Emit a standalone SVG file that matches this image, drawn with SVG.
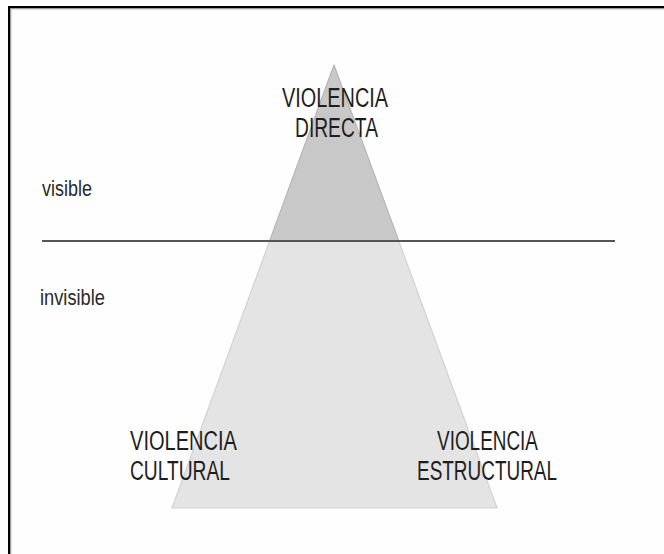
<svg xmlns="http://www.w3.org/2000/svg" width="664" height="554" viewBox="0 0 664 554">
  <style>
    .lbl { font-family: "Liberation Sans Narrow", "Liberation Sans", Arial, sans-serif; font-size: 27px; fill: #1e1e1e; }
    .side { font-family: "Liberation Sans Narrow", "Liberation Sans", Arial, sans-serif; font-size: 22px; fill: #2a2a2a; }
  </style>
  <rect x="0" y="0" width="664" height="554" fill="#fefefe"/>
  <g id="frame">
    <path d="M10.5 554 V8.5 H664" fill="none" stroke="#9a9a9a" stroke-width="1.5"/>
    <path d="M9 554 V7 H664" fill="none" stroke="#000" stroke-width="2"/>
  </g>
  <g id="pyramid">
    <polygon points="334,65 172,508 497,508" fill="#e4e4e4" stroke="#d2d2d2" stroke-width="1.2"/>
    <polygon points="334,65 269.6,241 398.8,241" fill="#c8c8c8" stroke="#b4b4b4" stroke-width="1"/>
  </g>
  <g id="connectors">
    <line x1="42" y1="241" x2="615" y2="241" stroke="#555" stroke-width="2"/>
  </g>
  <g id="violencia-directa">
    <text class="lbl" x="282" y="107" textLength="106" lengthAdjust="spacingAndGlyphs">VIOLENCIA</text>
    <text class="lbl" x="295" y="137" textLength="83" lengthAdjust="spacingAndGlyphs">DIRECTA</text>
  </g>
  <g id="visible">
    <text class="side" x="42" y="196" textLength="50" lengthAdjust="spacingAndGlyphs">visible</text>
  </g>
  <g id="invisible">
    <text class="side" x="40" y="305" textLength="65" lengthAdjust="spacingAndGlyphs">invisible</text>
  </g>
  <g id="violencia-cultural">
    <text class="lbl" x="130" y="450" textLength="107" lengthAdjust="spacingAndGlyphs">VIOLENCIA</text>
    <text class="lbl" x="130" y="480" textLength="100" lengthAdjust="spacingAndGlyphs">CULTURAL</text>
  </g>
  <g id="violencia-estructural">
    <text class="lbl" x="437" y="450" textLength="101" lengthAdjust="spacingAndGlyphs">VIOLENCIA</text>
    <text class="lbl" x="417" y="480" textLength="140" lengthAdjust="spacingAndGlyphs">ESTRUCTURAL</text>
  </g>
</svg>
